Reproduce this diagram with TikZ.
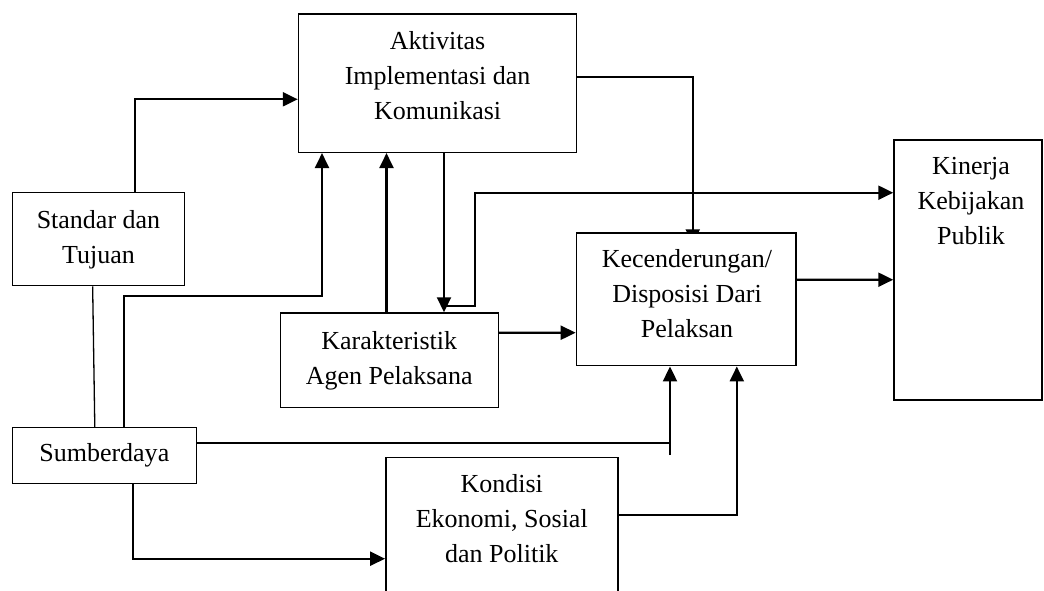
\documentclass[tikz,border=0pt]{standalone}
\usepackage{fontspec}
\setmainfont{Liberation Serif}
\usetikzlibrary{arrows.meta,backgrounds}
\begin{document}
\begin{tikzpicture}[x=1pt,y=-1pt,
  box/.style={draw, line width=1.5pt, fill=white, inner sep=0pt, rectangle},
  lbl/.style={align=center, inner sep=0pt, font=\fontsize{26}{35}\selectfont},
  arr/.style={line width=2.2pt, -{Triangle[length=15pt,width=14pt]}},
  ln/.style={line width=1.7pt}]
\useasboundingbox (0,0) rectangle (1044,590);
\clip (0,0) rectangle (1044,590);
% boxes
\node[box, minimum width=278.2pt, minimum height=138.3pt] (akt) at (437.6,83.15) {};
\node[box, minimum width=171.9pt, minimum height=93.4pt] (std) at (98.55,239) {};
\node[box, minimum width=217.8pt, minimum height=94.3pt] (kar) at (389.4,360.15) {};
\node[box, minimum width=183.8pt, minimum height=55.8pt] (sum) at (104.6,455.4) {};
\node[box, minimum width=219.6pt, minimum height=132.7pt] (kec) at (686.2,299.35) {};
\node[box, minimum width=148pt, minimum height=260pt] (kin) at (968,270) {};
\node[box, minimum width=232.2pt, minimum height=162.7pt] (kon) at (501.9,538.65) {};
% labels
\node[lbl] (takt) at (437.6,75.6) {Aktivitas\\Implementasi dan\\Komunikasi};
\node[lbl] (tstd) at (98.5,239.7) {Standar dan\\Tujuan};
\node[lbl] (tkar) at (389.2,360.6) {Karakteristik\\Agen Pelaksana};
\node[lbl] (tsum) at (104.3,455.6) {Sumberdaya};
\node[lbl] (tkec) at (687,294) {Kecenderungan/\\Disposisi Dari\\Pelaksan};
\node[lbl] (tkin) at (971,201.1) {Kinerja\\Kebijakan\\Publik};
\node[lbl] (tkon) at (501.8,518.3) {Kondisi\\Ekonomi, Sosial\\dan Politik};
\coordinate (jn) at (670,442.7);
\coordinate (jb) at (670,455);
\begin{pgfonlayer}{background}
\draw[arr] ([xshift=36.45pt]std.north) |- ([yshift=-16.15pt]akt.west);
\draw[arr] ([xshift=19pt]sum.north) -- ++(0,-130.5) -| ([xshift=-115.6pt]akt.south);
\draw[arr] ([xshift=-2.9pt]kar.north) -- ([xshift=-51.1pt]akt.south);
\draw[arr] ([xshift=6.4pt]akt.south) -- ([xshift=54.6pt]kar.north);
\draw[arr] ([xshift=54.6pt,yshift=6pt]kar.north) -- ++(31,0) |- ([yshift=77.3pt]kin.west);
\draw[arr] ([yshift=6.45pt]akt.east) -| ([xshift=6.5pt,yshift=-12pt]kec.north);
\draw[arr] ([yshift=27.45pt]kar.east) -- ([yshift=-33.35pt]kec.west);
\draw[arr] ([yshift=19.65pt]kec.east) -- ([yshift=-9.7pt]kin.west);
\draw[ln] ([yshift=12.7pt]sum.east) -- (jn);
\draw[arr] (jb) -- ([xshift=-16.2pt]kec.south);
\draw[arr] ([xshift=28.7pt]sum.south) |- ([yshift=-20.05pt]kon.west);
\draw[arr] ([yshift=23.35pt]kon.east) -| ([xshift=50.6pt]kec.south);
\draw[line width=1.3pt] ([xshift=-5.9pt]std.south) -- ([xshift=-9.8pt]sum.north);
\end{pgfonlayer}
\end{tikzpicture}
\end{document}
